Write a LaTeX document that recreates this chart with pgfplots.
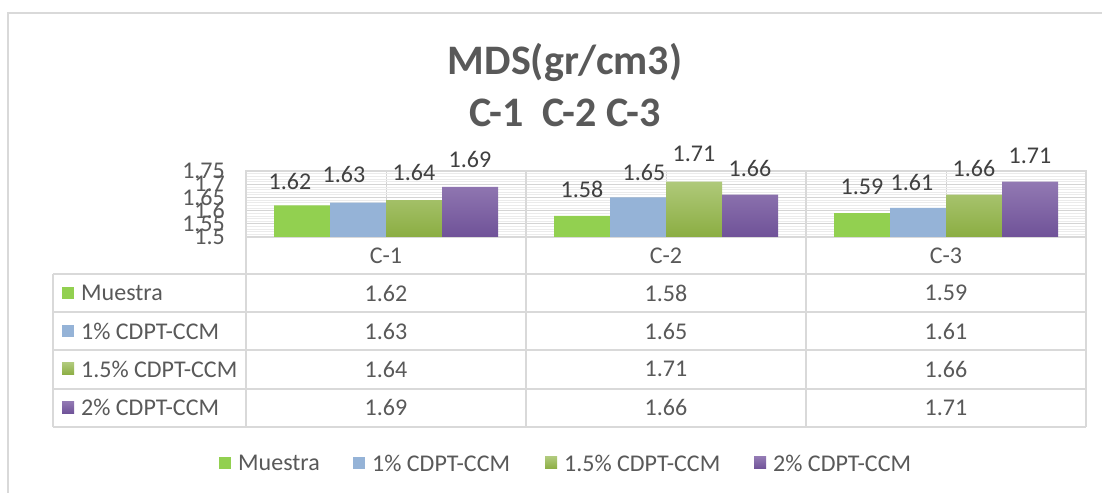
\documentclass[border=0pt]{standalone}
\usepackage{fontspec}
\setmainfont{Carlito}
\usepackage{pgfplots}
\pgfplotsset{compat=1.18}
\usepackage{pgfplotstable}
\definecolor{txt}{HTML}{595959}
\definecolor{lbl}{HTML}{404040}
\definecolor{bordc}{HTML}{D9D9D9}
\definecolor{tabc}{HTML}{D9D9D9}
\definecolor{cMu}{HTML}{92D050}
\definecolor{cOne}{HTML}{95B3D7}
\definecolor{cOneFiveT}{HTML}{AFC97A}
\definecolor{cOneFiveB}{HTML}{8BAD42}
\definecolor{cTwoT}{HTML}{9279B3}
\definecolor{cTwoB}{HTML}{6F5298}

\pgfplotstableread{
x y dx dy lbl
0.5 1.62 -12 -3 1.62
1.5 1.58 0 0 1.58
2.5 1.59 0 0 1.59
}\tMu
\pgfplotstableread{
x y dx dy lbl
0.5 1.63 -14 2 1.63
1.5 1.65 6 -1 1.65
2.5 1.61 -6 -1 1.61
}\tOne
\pgfplotstableread{
x y dx dy lbl
0.5 1.64 0 1 1.64
1.5 1.71 0 2 1.71
2.5 1.66 0 0 1.66
}\tOneFive
\pgfplotstableread{
x y dx dy lbl
0.5 1.69 0 1 1.69
1.5 1.66 0 0 1.66
2.5 1.71 0 0 1.71
}\tTwo

\newcommand{\fs}[1]{\fontsize{#1bp}{#1bp}\selectfont}

\begin{document}
\begin{tikzpicture}[x=1bp,y=1bp]
\useasboundingbox (0,0) rectangle (1102,493);
\fill[white] (0,0) rectangle (1102,493);
\draw[bordc, line width=2bp] (8,0) -- (8,480) -- (1102,480);

% title
\node[font=\fs{42}\bfseries, text=txt] at (565,431) {MDS(gr/cm3)};
\node[font=\fs{42}\bfseries, text=txt] at (565,380) {C-1\ \ C-2 C-3};

\begin{axis}[
  at={(246bp,256bp)}, anchor=south west,
  scale only axis, width=840bp, height=66bp,
  xmin=0, xmax=3, ymin=1.5, ymax=1.75,
  ybar=0pt, bar width=56bp,
  ytick={1.5,1.55,1.6,1.65,1.7,1.75},
  yticklabels={1.5,1.55,1.6,1.65,1.7,1.75},
  xtick={0.5,1.5,2.5}, xticklabels={},
  minor y tick num=4,
  xmajorgrids, ymajorgrids, yminorgrids,
  major grid style={draw=black!17, line width=0.8bp},
  minor grid style={draw=black!8, line width=0.6bp},
  major tick length=0pt, minor tick length=0pt,
  axis line style={draw=tabc, line width=1.2bp},
  yticklabel style={font=\fs{24}, text=txt, inner sep=0pt, anchor=east, xshift=-21bp},
  nodes near coords,
  point meta=explicit symbolic,
  every node near coord/.append style={font=\fs{24}, text=lbl, inner sep=0pt, anchor=south},
  clip=false,
]
\addplot[draw=none, fill=cMu,
  visualization depends on={\thisrow{dx}\as\dx},
  visualization depends on={\thisrow{dy}\as\dy},
  every node near coord/.append style={xshift=\dx bp, yshift=18bp+\dy bp}]
  table[x=x, y=y, meta=lbl] {\tMu};
\addplot[draw=none, fill=cOne,
  visualization depends on={\thisrow{dx}\as\dx},
  visualization depends on={\thisrow{dy}\as\dy},
  every node near coord/.append style={xshift=\dx bp, yshift=18bp+\dy bp}]
  table[x=x, y=y, meta=lbl] {\tOne};
\addplot[draw=none, top color=cOneFiveT, bottom color=cOneFiveB,
  visualization depends on={\thisrow{dx}\as\dx},
  visualization depends on={\thisrow{dy}\as\dy},
  every node near coord/.append style={xshift=\dx bp, yshift=18bp+\dy bp}]
  table[x=x, y=y, meta=lbl] {\tOneFive};
\addplot[draw=none, top color=cTwoT, bottom color=cTwoB,
  visualization depends on={\thisrow{dx}\as\dx},
  visualization depends on={\thisrow{dy}\as\dy},
  every node near coord/.append style={xshift=\dx bp, yshift=18bp+\dy bp}]
  table[x=x, y=y, meta=lbl] {\tTwo};
\end{axis}

% data table
\begin{scope}[tabc, line width=1.2bp]
\foreach \yy in {219,181,143,104,66} \draw (53,\yy) -- (1086,\yy);
\draw (53,219) -- (53,66);
\foreach \xx in {246,526,806,1086} \draw (\xx,322) -- (\xx,66);
\end{scope}
\begin{scope}[every node/.style={font=\fs{24}, text=txt, inner sep=0pt}]
\node at (386,237.5) {C-1};
\node at (666,237.5) {C-2};
\node at (946,237.5) {C-3};
% rows
\fill[cMu] (62,194) rectangle (74,206);
\node[anchor=west] at (81,200) {Muestra};
\node at (386,200) {1.62}; \node at (666,200) {1.58}; \node at (946,200) {1.59};
\fill[cOne] (62,156) rectangle (74,168);
\node[anchor=west] at (81,162) {1\% CDPT-CCM};
\node at (386,162) {1.63}; \node at (666,162) {1.65}; \node at (946,162) {1.61};
\shade[top color=cOneFiveT, bottom color=cOneFiveB] (62,118) rectangle (74,130);
\node[anchor=west] at (81,124) {1.5\% CDPT-CCM};
\node at (386,124) {1.64}; \node at (666,124) {1.71}; \node at (946,124) {1.66};
\shade[top color=cTwoT, bottom color=cTwoB] (62,79.5) rectangle (74,91.5);
\node[anchor=west] at (81,85.5) {2\% CDPT-CCM};
\node at (386,85.5) {1.69}; \node at (666,85.5) {1.66}; \node at (946,85.5) {1.71};
% legend
\fill[cMu] (219,24) rectangle (231,36);
\node[anchor=west] at (238,30) {Muestra};
\fill[cOne] (353,24) rectangle (365,36);
\node[anchor=west] at (372,30) {1\% CDPT-CCM};
\shade[top color=cOneFiveT, bottom color=cOneFiveB] (545,24) rectangle (557,36);
\node[anchor=west] at (564,30) {1.5\% CDPT-CCM};
\shade[top color=cTwoT, bottom color=cTwoB] (754,24) rectangle (766,36);
\node[anchor=west] at (773,30) {2\% CDPT-CCM};
\end{scope}
\end{tikzpicture}
\end{document}
